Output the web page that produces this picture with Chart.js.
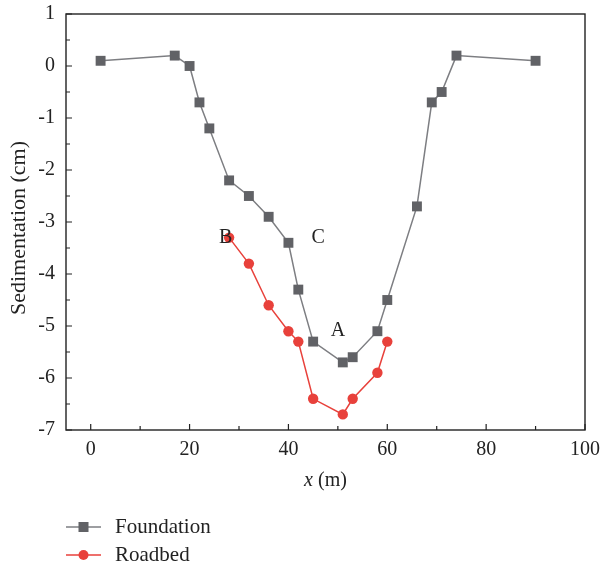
<!DOCTYPE html>
<html>
<head>
<meta charset="utf-8">
<script src="https://cdn.jsdelivr.net/npm/chart.js@4.4.0/dist/chart.umd.min.js"></script>
<style>
html,body{margin:0;padding:0;background:#fff;}
#wrap{width:601px;height:569px;}
</style>
</head>
<body>
<div id="wrap"><canvas id="grafico" width="601" height="569"></canvas></div>
<script>
// datos
const footX = [2,17,20,22,24,28,32,36,40,42,45,51,53,58,60,66,69,71,74,90];
const footY = [0.1,0.2,0,-0.7,-1.2,-2.2,-2.5,-2.9,-3.4,-4.3,-5.3,-5.7,-5.6,-5.1,-4.5,-2.7,-0.7,-0.5,0.2,0.1];
const roadX = [28,32,36,40,42,45,51,53,58,60];
const roadY = [-3.3,-3.8,-4.6,-5.1,-5.3,-6.4,-6.7,-6.4,-5.9,-5.3];
const xTicks = [0,20,40,60,80,100];
const yTicks = [1,0,-1,-2,-3,-4,-5,-6,-7];
const notas = ["B","C","A"];
const notasX = [27.3,46,50];
const notasY = [-3.3,-3.3,-5.1];

const serif = "'Liberation Serif','Times New Roman',serif";
const tam = 20;
const gris = '#616266';
const rojo = '#e8413b';

const puntos = (xs,ys)=>xs.map((v,i)=>({x:v,y:ys[i]}));

const sinPadding = s=>{ s.paddingTop=0; s.paddingBottom=0; s.paddingLeft=0; s.paddingRight=0; };

const marco = {
  id:'marco',
  afterDraw(chart){
    const {ctx, chartArea:a, scales:{x,y}} = chart;
    ctx.save();
    ctx.strokeStyle = '#222';
    ctx.lineWidth = 1.4;
    ctx.strokeRect(a.left, a.top, a.right-a.left, a.bottom-a.top);
    // ticks hacia dentro
    ctx.lineWidth = 1.2;
    ctx.beginPath();
    for(let v=0; v<=100; v+=10){
      const px = x.getPixelForValue(v);
      const len = v%20===0 ? 6 : 4;
      ctx.moveTo(px, a.bottom); ctx.lineTo(px, a.bottom-len);
    }
    for(let v=-7; v<=1; v+=0.5){
      const py = y.getPixelForValue(v);
      const len = Number.isInteger(v) ? 6 : 4;
      ctx.moveTo(a.left, py); ctx.lineTo(a.left+len, py);
    }
    ctx.stroke();

    // titulos de ejes
    ctx.fillStyle = '#222';
    ctx.textBaseline = 'middle';
    const tx = (a.left+a.right)/2;
    ctx.font = 'italic '+tam+'px '+serif;
    const w1 = ctx.measureText('x').width;
    ctx.font = tam+'px '+serif;
    const w2 = ctx.measureText(' (m)').width;
    let sx = tx - (w1+w2)/2;
    ctx.textAlign = 'left';
    ctx.font = 'italic '+tam+'px '+serif;
    ctx.fillText('x', sx, 481);
    ctx.font = tam+'px '+serif;
    ctx.fillText(' (m)', sx+w1, 481);

    ctx.save();
    ctx.translate(19, 228);
    ctx.rotate(-Math.PI/2);
    ctx.textAlign = 'center';
    ctx.font = '22px '+serif;
    ctx.fillText('Sedimentation (cm)', 0, 0);
    ctx.restore();

    // letras A B C
    ctx.textAlign = 'center';
    notas.forEach((t,i)=>{
      ctx.fillText(t, x.getPixelForValue(notasX[i]), y.getPixelForValue(notasY[i]));
    });

    // leyenda
    const ys = [527, 555];
    ctx.font = '21px '+serif;
    chart.data.datasets.forEach((d,i)=>{
      ctx.strokeStyle = d.borderColor;
      ctx.lineWidth = 1.5;
      ctx.beginPath(); ctx.moveTo(66, ys[i]); ctx.lineTo(101, ys[i]); ctx.stroke();
      ctx.fillStyle = d.pointBackgroundColor;
      if(d.pointStyle==='rect'){
        ctx.fillRect(78.5, ys[i]-5, 10, 10);
      } else {
        ctx.beginPath(); ctx.arc(83.5, ys[i], 5, 0, Math.PI*2); ctx.fill();
      }
      ctx.fillStyle = '#222';
      ctx.textAlign = 'left';
      ctx.fillText(d.label, 115, ys[i]);
    });
    ctx.restore();
  }
};

new Chart(document.getElementById('grafico'), {
  type:'scatter',
  data:{
    datasets:[
      {label:'Foundation', data:puntos(footX,footY), showLine:true,
       borderColor:'#7d7e82', borderWidth:1.5, pointStyle:'rect',
       pointRadius:7, pointBackgroundColor:gris, pointBorderWidth:0, pointHoverRadius:7},
      {label:'Roadbed', data:puntos(roadX,roadY), showLine:true,
       borderColor:rojo, borderWidth:1.5, pointStyle:'circle',
       pointRadius:5.2, pointBackgroundColor:rojo, pointBorderWidth:0, pointHoverRadius:5.2}
    ]
  },
  options:{
    responsive:false,
    animation:false,
    layout:{padding:{top:14, right:16, left:0, bottom:0}},
    plugins:{legend:{display:false}, tooltip:{enabled:false}},
    scales:{
      x:{
        type:'linear', min:-5, max:100,
        afterBuildTicks:s=>{ s.ticks = xTicks.map(v=>({value:v})); },
        afterFit:s=>{ s.height = 139; sinPadding(s); },
        grid:{display:false, drawTicks:false}, border:{display:false},
        ticks:{padding:8, color:'#222', font:{family:serif, size:tam}, maxRotation:0}
      },
      y:{
        min:-7, max:1,
        afterBuildTicks:s=>{ s.ticks = yTicks.map(v=>({value:v})); },
        afterFit:s=>{ s.width = 66; sinPadding(s); },
        grid:{display:false, drawTicks:false}, border:{display:false},
        ticks:{padding:11, color:'#222', font:{family:serif, size:tam}}
      }
    }
  },
  plugins:[marco]
});
</script>
</body>
</html>
